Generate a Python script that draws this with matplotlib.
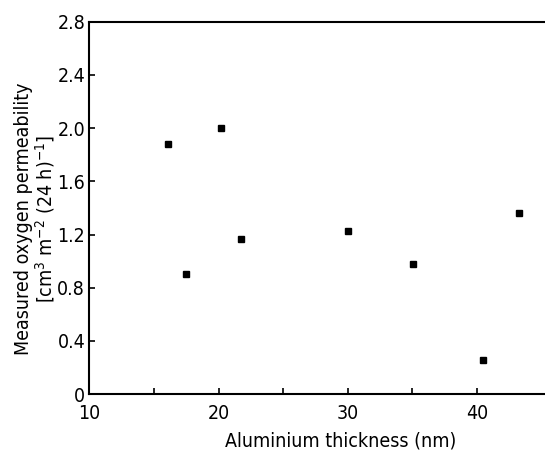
import matplotlib
matplotlib.use('Agg')
import matplotlib.pyplot as plt
from matplotlib import font_manager

# data
thickness = [16.1, 17.5, 20.2, 21.75, 30.0, 35.1, 40.5, 43.3]
permeability = [1.88, 0.90, 2.00, 1.17, 1.23, 0.98, 0.26, 1.36]
y_ticks = [0, 0.4, 0.8, 1.2, 1.6, 2.0, 2.4, 2.8]
y_tick_labels = ['0', '0.4', '0.8', '1.2', '1.6', '2.0', '2.4', '2.8']
x_ticks = [10, 20, 30, 40]
x_minor = [15, 25, 35]

# a condensed face if one is installed, the scan uses a narrow sans
condensed = [f for f in font_manager.fontManager.ttflist
             if f.stretch in ('condensed', 'semi-condensed', 'extra-condensed')
             and f.style == 'normal' and f.weight in (400, 'normal', 'regular')]
if condensed:
    family = condensed[0].name
    plt.rcParams['font.stretch'] = condensed[0].stretch
else:
    family = 'DejaVu Sans'
plt.rcParams['font.family'] = [family, 'DejaVu Sans']
plt.rcParams['mathtext.fontset'] = 'custom'
plt.rcParams['mathtext.rm'] = family

fig = plt.figure(figsize=(5.45, 4.54), dpi=100)
ax = fig.add_axes([0.164, 0.132, 0.834, 0.82])

ax.plot(thickness, permeability, 's', color='black', markersize=4.5, linestyle='none')

ax.set_xlim(10, 45.2)
ax.set_ylim(0, 2.8)
ax.set_xticks(x_ticks)
ax.set_xticks(x_minor, minor=True)
ax.set_yticks(y_ticks)
ax.set_yticklabels(y_tick_labels)

ax.tick_params(axis='both', which='both', direction='in', length=4, width=1.2,
               labelsize=14, colors='black')
ax.tick_params(axis='x', pad=7)
ax.tick_params(axis='y', pad=3)

for side in ['left', 'bottom', 'top']:
    ax.spines[side].set_linewidth(1.5)
ax.spines['right'].set_visible(False)

ax.set_xlabel('Aluminium thickness (nm)', fontsize=14)
ax.xaxis.set_label_coords(0.553, -0.1)
ax.set_ylabel('Measured oxygen permeability\n[cm$^3$ m$^{-2}$ (24 h)$^{-1}$]',
              fontsize=14, linespacing=1.0)
ax.yaxis.set_label_coords(-0.072, 0.47)

fig.savefig('out.png', dpi=100)
